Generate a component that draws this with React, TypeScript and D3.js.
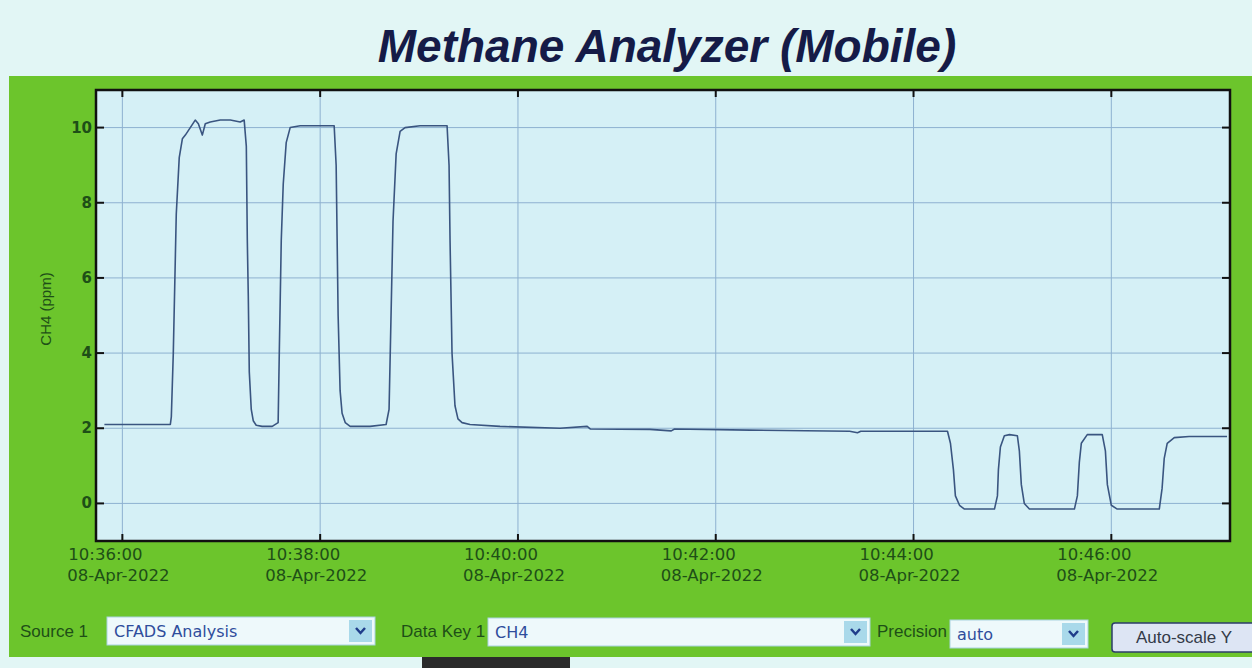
import { useEffect, useRef } from "react";
import * as d3 from "d3";

// --- Data ---
// seconds after 10:36:00 on 08-Apr-2022
const elapsedSec = [
  -10.9, 29.1, 29.7, 30.9, 32.7, 34.5, 36.4, 38.2, 41.2, 44.2, 46.1, 48.5, 50.3, 53.3, 59.4, 65.5, 71.5,
  73.9, 75.2, 75.8, 76.4, 77.0, 78.2, 79.4, 81.2, 84.8, 90.9, 94.5, 95.2, 96.4, 97.6, 99.4, 101.8, 107.9,
  120.0, 128.5, 129.7, 130.3, 130.9, 132.1, 133.3, 135.2, 138.2, 150.3, 160.0, 161.8, 163.0, 164.2, 166.1,
  168.5, 171.5, 180.6, 197.0, 198.2, 198.8, 200.0, 201.8, 203.6, 206.1, 210.9, 229.1, 265.5, 282.0, 284.0,
  320.0, 333.0, 335.0, 380.6, 441.2, 446.0, 448.0, 500.6, 502.4, 504.2, 505.4, 507.9, 510.9, 529.1, 530.9,
  531.5, 532.7, 535.1, 538.2, 543.0, 544.2, 545.4, 547.2, 550.3, 577.6, 579.4, 580.6, 581.8, 585.4, 594.5,
  596.4, 597.6, 600.0, 603.6, 629.1, 630.8, 632.1, 633.9, 638.2, 647.2, 670.2,
];
// CH4 (ppm)
const ch4 = [
  2.1, 2.1, 2.3, 4.0, 7.7, 9.2, 9.7, 9.8, 10.0, 10.2, 10.1, 9.8, 10.1, 10.15, 10.2, 10.2, 10.15,
  10.2, 9.5, 7.0, 5.5, 3.5, 2.5, 2.2, 2.08, 2.05, 2.05, 2.15, 4.0, 7.0, 8.5, 9.6, 10.0, 10.05,
  10.05, 10.05, 9.0, 7.0, 5.0, 3.0, 2.4, 2.15, 2.05, 2.05, 2.1, 2.5, 5.0, 7.5, 9.3,
  9.9, 10.0, 10.05, 10.05, 9.0, 7.0, 4.0, 2.6, 2.25, 2.15, 2.1, 2.05, 2.0, 2.05, 1.98,
  1.97, 1.93, 1.98, 1.95, 1.92, 1.88, 1.92, 1.92, 1.6, 0.9, 0.2, -0.05, -0.15, -0.15, 0.2,
  0.9, 1.5, 1.8, 1.83, 1.8, 1.4, 0.5, 0.0, -0.15, -0.15, 0.2, 1.1, 1.6, 1.83, 1.83,
  1.4, 0.5, -0.05, -0.15, -0.15, 0.4, 1.2, 1.6, 1.75, 1.78, 1.78,
];

const yTicks = [0, 2, 4, 6, 8, 10];
const yDomain = [-1, 11];
const startTime = "2022-04-08 10:35:44";
const endTime = "2022-04-08 10:47:12";
const baseTime = "2022-04-08 10:36:00";

const title = "Methane Analyzer (Mobile)";
const yLabel = "CH4 (ppm)";

const GREEN = "#6cc52c";
const TXT = "#1e4f17";
const FONT = "'DejaVu Sans', sans-serif";
const SANS = "'Liberation Sans', Arial, sans-serif";

export default function App() {
  const ref = useRef(null);

  useEffect(() => {
    const svg = d3.select(ref.current);
    svg.selectAll("*").remove();

    const parse = d3.timeParse("%Y-%m-%d %H:%M:%S");
    const base = parse(baseTime);
    const pts = elapsedSec.map((s, i) => ({ t: new Date(base.getTime() + s * 1000), v: ch4[i] }));

    const L = 96, R = 1230, T = 90, B = 541;
    const x = d3.scaleTime().domain([parse(startTime), parse(endTime)]).range([L, R]);
    const y = d3.scaleLinear().domain(yDomain).range([B, T]);
    const xTicks = x.ticks(d3.timeMinute.every(2));

    // page background + green panel
    svg.append("rect").attr("width", 1252).attr("height", 668).attr("fill", "#e2f6f5");
    svg.append("rect").attr("x", 9).attr("y", 76).attr("width", 1243).attr("height", 581).attr("fill", GREEN);
    svg.append("rect").attr("x", 422).attr("y", 657).attr("width", 148).attr("height", 11).attr("fill", "#2b2b2b");

    svg.append("text")
      .attr("x", 667).attr("y", 62)
      .attr("text-anchor", "middle")
      .attr("font-family", SANS)
      .attr("font-size", 46).attr("font-weight", "bold").attr("font-style", "italic")
      .attr("fill", "#151b47")
      .text(title);

    // plot area
    svg.append("rect").attr("x", L).attr("y", T).attr("width", R - L).attr("height", B - T).attr("fill", "#d5f0f6");

    const grid = svg.append("g").attr("stroke", "#8eb1d0").attr("stroke-width", 1);
    yTicks.forEach((v) => {
      grid.append("line").attr("x1", L).attr("x2", R).attr("y1", y(v)).attr("y2", y(v));
    });
    xTicks.forEach((t) => {
      grid.append("line").attr("x1", x(t)).attr("x2", x(t)).attr("y1", T).attr("y2", B);
    });

    // tick marks on the frame
    const tk = svg.append("g").attr("stroke", "#111").attr("stroke-width", 2);
    yTicks.forEach((v) => {
      tk.append("line").attr("x1", L).attr("x2", L + 8).attr("y1", y(v)).attr("y2", y(v));
      tk.append("line").attr("x1", R - 8).attr("x2", R).attr("y1", y(v)).attr("y2", y(v));
    });
    xTicks.forEach((t) => {
      tk.append("line").attr("x1", x(t)).attr("x2", x(t)).attr("y1", T).attr("y2", T + 7);
      tk.append("line").attr("x1", x(t)).attr("x2", x(t)).attr("y1", B - 7).attr("y2", B);
    });

    const line = d3.line().x((d) => x(d.t)).y((d) => y(d.v));
    svg.append("path")
      .datum(pts)
      .attr("d", line)
      .attr("fill", "none")
      .attr("stroke", "#3a5580")
      .attr("stroke-width", 1.6)
      .attr("stroke-linejoin", "round");

    svg.append("rect").attr("x", L).attr("y", T).attr("width", R - L).attr("height", B - T)
      .attr("fill", "none").attr("stroke", "#111").attr("stroke-width", 2.5);

    // y labels
    yTicks.forEach((v) => {
      svg.append("text")
        .attr("x", L - 4).attr("y", y(v) + 5)
        .attr("text-anchor", "end")
        .attr("font-family", FONT).attr("font-size", 15).attr("font-weight", "bold")
        .attr("fill", TXT)
        .text(v);
    });
    svg.append("text")
      .attr("transform", "translate(51,309) rotate(-90)")
      .attr("text-anchor", "middle")
      .attr("font-family", SANS).attr("font-size", 15)
      .attr("fill", TXT)
      .text(yLabel);

    // x labels
    const f1 = d3.timeFormat("%H:%M:%S");
    const f2 = d3.timeFormat("%d-%b-%Y");
    xTicks.forEach((t) => {
      const g = svg.append("text")
        .attr("font-family", FONT).attr("font-size", 16.5)
        .attr("fill", TXT);
      g.append("tspan").attr("x", x(t) - 54).attr("y", B + 19).text(f1(t));
      g.append("tspan").attr("x", x(t) - 55).attr("y", B + 40).text(f2(t));
    });

    // bottom controls
    const label = (tx, text) =>
      svg.append("text").attr("x", tx).attr("y", 637)
        .attr("font-family", SANS).attr("font-size", 17).attr("fill", TXT).text(text);
    const select = (x0, x1, y0, text) => {
      svg.append("rect").attr("x", x0).attr("y", y0).attr("width", x1 - x0).attr("height", 28)
        .attr("fill", "#eef9fb").attr("stroke", "#a9d3df").attr("stroke-width", 1);
      svg.append("text").attr("x", x0 + 7).attr("y", y0 + 20)
        .attr("font-family", FONT).attr("font-size", 16).attr("fill", "#2f4d9c").text(text);
      svg.append("rect").attr("x", x1 - 26).attr("y", y0 + 3).attr("width", 23).attr("height", 22)
        .attr("fill", "#a9d9ea");
      svg.append("path")
        .attr("d", `M${x1 - 19},${y0 + 11} L${x1 - 14.5},${y0 + 16} L${x1 - 10},${y0 + 11}`)
        .attr("fill", "none").attr("stroke", "#1f3d8a").attr("stroke-width", 2.5);
    };
    label(20, "Source 1");
    select(107, 375, 617, "CFADS Analysis");
    label(401, "Data Key 1");
    select(488, 870, 618, "CH4");
    label(877, "Precision");
    select(950, 1088, 620, "auto");

    svg.append("rect").attr("x", 1112).attr("y", 623).attr("width", 145).attr("height", 29).attr("rx", 3)
      .attr("fill", "#dde5f4").attr("stroke", "#2c3c6a").attr("stroke-width", 1.5);
    svg.append("text").attr("x", 1184).attr("y", 643).attr("text-anchor", "middle")
      .attr("font-family", SANS).attr("font-size", 17).attr("fill", "#333a48").text("Auto-scale Y");
  }, []);

  return (
    <svg
      ref={ref}
      width={1252}
      height={668}
      style={{ position: "absolute", left: 0, top: 0, display: "block" }}
    />
  );
}
